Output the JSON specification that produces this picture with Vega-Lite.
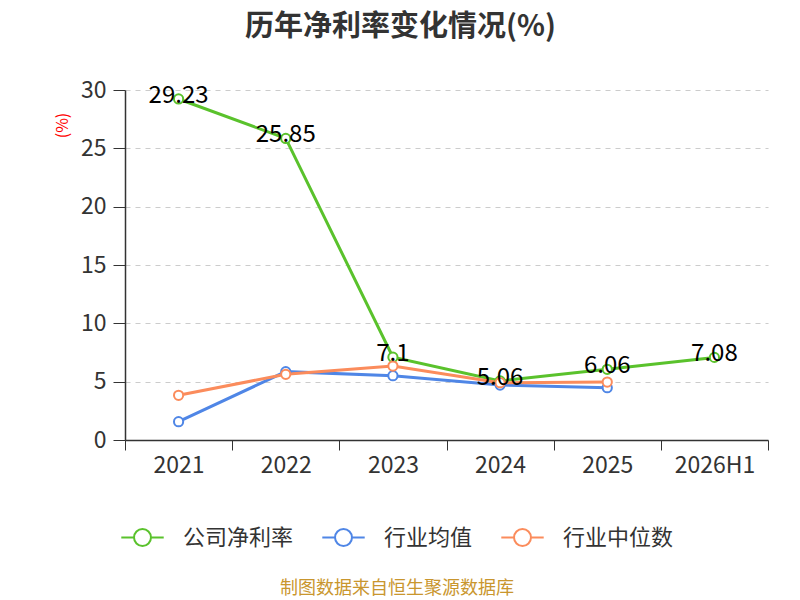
{
  "$schema": "https://vega.github.io/schema/vega-lite/v6.json",
  "width": 643,
  "height": 350,
  "autosize": {"type": "none"},
  "padding": {"left": 125, "top": 90, "right": 32, "bottom": 160},
  "background": "white",
  "title": {
    "text": "历年净利率变化情况(%)",
    "font": "Noto Sans CJK SC",
    "fontSize": 29,
    "fontWeight": "bold",
    "color": "#333333",
    "anchor": "middle",
    "frame": "group",
    "dx": -46,
    "offset": 37
  },
  "config": {
    "view": {"stroke": null},
    "font": "Noto Sans CJK SC"
  },
  "data": {
    "values": [
      {"year": "2021", "series": "公司净利率", "value": 29.23},
      {"year": "2022", "series": "公司净利率", "value": 25.85},
      {"year": "2023", "series": "公司净利率", "value": 7.1},
      {"year": "2024", "series": "公司净利率", "value": 5.06},
      {"year": "2025", "series": "公司净利率", "value": 6.06},
      {"year": "2026H1", "series": "公司净利率", "value": 7.08},
      {"year": "2021", "series": "行业均值", "value": 1.57},
      {"year": "2022", "series": "行业均值", "value": 5.86},
      {"year": "2023", "series": "行业均值", "value": 5.51},
      {"year": "2024", "series": "行业均值", "value": 4.71},
      {"year": "2025", "series": "行业均值", "value": 4.48},
      {"year": "2021", "series": "行业中位数", "value": 3.83},
      {"year": "2022", "series": "行业中位数", "value": 5.63},
      {"year": "2023", "series": "行业中位数", "value": 6.34},
      {"year": "2024", "series": "行业中位数", "value": 4.91},
      {"year": "2025", "series": "行业中位数", "value": 4.97}
    ]
  },
  "encoding": {
    "x": {
      "field": "year",
      "type": "nominal",
      "sort": null,
      "scale": {"paddingInner": 0, "paddingOuter": 0},
      "axis": {
        "title": null,
        "labelAngle": 0,
        "labelFontSize": 23,
        "labelColor": "#333333",
        "labelPadding": 4,
        "domainColor": "#333333",
        "domainWidth": 1.5,
        "tickColor": "#333333",
        "tickSize": 10,
        "tickBand": "extent",
        "grid": false
      }
    },
    "y": {
      "field": "value",
      "type": "quantitative",
      "scale": {"domain": [0, 30], "nice": false},
      "axis": {
        "title": "(%)",
        "titleColor": "#ff0000",
        "titleFontSize": 16,
        "titleFontWeight": "normal",
        "titleAngle": -90,
        "titleX": -63,
        "titleY": 35,
        "titleAlign": "center",
        "titleBaseline": "middle",
        "values": [0, 5, 10, 15, 20, 25, 30],
        "labelFontSize": 23,
        "labelColor": "#333333",
        "labelPadding": 7,
        "domainColor": "#333333",
        "domainWidth": 1.5,
        "tickColor": "#333333",
        "tickSize": 12,
        "grid": true,
        "gridColor": "#cccccc",
        "gridDash": [5, 5],
        "gridWidth": 1.2
      }
    },
    "color": {
      "field": "series",
      "type": "nominal",
      "scale": {
        "domain": ["公司净利率", "行业均值", "行业中位数"],
        "range": ["#5ac22c", "#4f86e6", "#fb8c5c"]
      },
      "legend": {
        "title": "制图数据来自恒生聚源数据库",
        "titleOrient": "bottom",
        "titleAnchor": "middle",
        "titleColor": "#c9962e",
        "titleFontSize": 18,
        "titleFontWeight": "normal",
        "titleLimit": 600,
        "titlePadding": 30,
        "orient": "none",
        "legendX": -5,
        "legendY": 425,
        "direction": "horizontal",
        "labelFontSize": 22,
        "labelColor": "#333333",
        "labelLimit": 300,
        "labelOffset": 18,
        "columnPadding": 24,
        "symbolType": "M-1,0L-0.4,0M0.4,0A0.4,0.4,0,1,1,-0.4,0A0.4,0.4,0,1,1,0.4,0M0.4,0L1,0",
        "symbolSize": 1800,
        "symbolStrokeWidth": 2,
        "symbolFillColor": "white"
      }
    }
  },
  "layer": [
    {
      "mark": {"type": "line", "strokeWidth": 3}
    },
    {
      "mark": {"type": "point", "filled": false, "fill": "white", "strokeWidth": 2, "size": 85, "opacity": 1}
    },
    {
      "transform": [{"filter": "datum.series === '公司净利率'"}],
      "mark": {"type": "text", "fontSize": 24, "baseline": "middle", "dy": -3},
      "encoding": {
        "text": {"field": "value", "type": "quantitative"},
        "color": {"value": "#000000"}
      }
    }
  ]
}
